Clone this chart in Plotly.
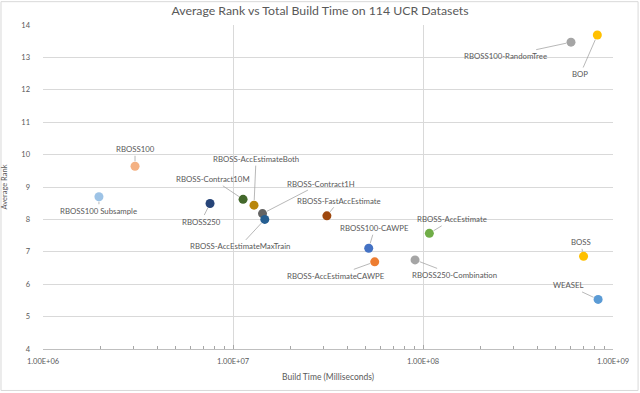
import math
import plotly.graph_objects as go

# classifier names, total build time (ms) and average rank
names = ["RBOSS100 Subsample", "RBOSS100", "RBOSS250", "RBOSS-Contract10M",
         "RBOSS-AccEstimateBoth", "RBOSS-Contract1H", "RBOSS-AccEstimateMaxTrain",
         "RBOSS-FastAccEstimate", "RBOSS100-CAWPE", "RBOSS-AccEstimateCAWPE",
         "RBOSS-AccEstimate", "RBOSS250-Combination", "BOSS", "WEASEL",
         "RBOSS100-RandomTree", "BOP"]
build_time = [1.97e6, 3.05e6, 7.57e6, 1.13e7, 1.29e7, 1.43e7, 1.47e7, 3.12e7,
              5.18e7, 5.57e7, 1.08e8, 9.08e7, 7.0e8, 8.35e8, 6.01e8, 8.27e8]
avg_rank = [8.70, 9.64, 8.49, 8.62, 8.44, 8.18, 8.00, 8.11,
            7.11, 6.69, 7.57, 6.75, 6.86, 5.53, 13.47, 13.69]

colors = ["#9DC3E6", "#F4B183", "#264478", "#43682B", "#B8860B", "#636363", "#255E91",
          "#9E480E", "#4472C4", "#ED7D31", "#70AD47", "#A5A5A5", "#FFC000", "#5B9BD5",
          "#A5A5A5", "#FFC000"]
# label offsets in pixels (text centre relative to point)
label_dx = [0, 0, -9, -30, 2, 58, -25, 12, 6, -39, 23, 39, -3, -30, -65, -17]
label_dy = [14, -17, 18, -20, -46, -30, 27, -15, -20, 14, -14, 15, -14, -14, 14, 39]

FONT = "Lato"
GREY = "#595959"

fig = go.Figure()
fig.add_trace(go.Scatter(
    x=build_time, y=avg_rank, mode="markers", text=names,
    marker=dict(size=9, color=colors), showlegend=False,
    hovertemplate="%{text}<br>%{x:.3s}<br>%{y}<extra></extra>"))

# log axis -> annotation x in log10 units
for n, x, y, dx, dy in zip(names, build_time, avg_rank, label_dx, label_dy):
    fig.add_annotation(x=math.log10(x), y=y, xref="x", yref="y", text=n, showarrow=True,
                       ax=dx, ay=dy, arrowhead=0, arrowwidth=0.8, arrowcolor="#A6A6A6",
                       standoff=5, font=dict(family=FONT, size=7.8, color=GREY))

fig.update_layout(
    width=640, height=393,
    margin=dict(l=43, r=27, t=25, b=44),
    paper_bgcolor="white", plot_bgcolor="white",
    font=dict(family=FONT, color=GREY),
    title=dict(text="Average Rank vs Total Build Time on 114 UCR Datasets",
               x=0.5, xanchor="center", y=0.985, yanchor="top",
               font=dict(family=FONT, size=12.3, color=GREY)),
)
minor_x = [m * 10 ** d for d in (6, 7, 8) for m in range(2, 10)]
fig.update_xaxes(
    type="log", range=[6, 9],
    tickvals=[1e6, 1e7, 1e8, 1e9],
    ticktext=["1.00E+06", "1.00E+07", "1.00E+08", "1.00E+09"],
    tickfont=dict(size=7.5, color=GREY), ticklabelstandoff=5,
    showgrid=True, gridcolor="#D9D9D9",
    showline=True, linecolor="#BFBFBF",
    ticks="inside", ticklen=4, tickcolor="#A6A6A6",
    minor=dict(ticks="inside", ticklen=3, tickcolor="#A6A6A6", showgrid=False,
               tickmode="array", tickvals=minor_x),
    title=dict(text="Build Time (Milliseconds)", font=dict(size=8.5, color=GREY), standoff=9),
    zeroline=False, automargin=False,
)
fig.update_yaxes(
    range=[4, 14], dtick=1,
    tickfont=dict(size=7.5, color=GREY), ticklabelstandoff=12,
    showgrid=True, gridcolor="#D9D9D9",
    showline=False, zeroline=False, automargin=False,
    title=dict(text="Average Rank", font=dict(size=7.5, color=GREY), standoff=20),
)
# chart border
fig.add_shape(type="rect", xref="paper", yref="paper",
              x0=-0.0737, x1=1.044, y0=-0.128, y1=1.072,
              line=dict(color="#D9D9D9", width=1))

fig.write_html("out.html", config={"displayModeBar": False},
               post_script="document.body.style.margin='0';")
